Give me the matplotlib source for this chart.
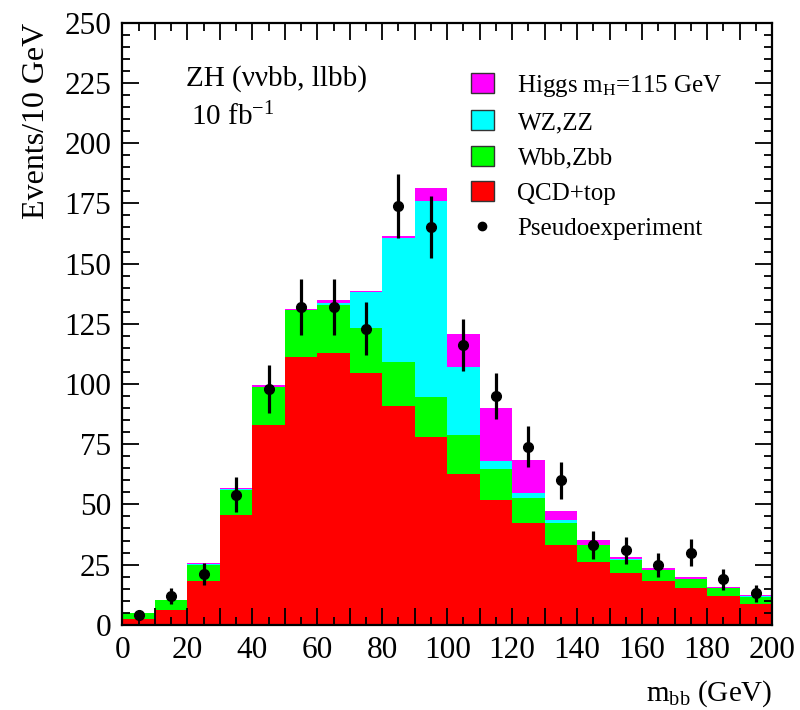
import numpy as np
import matplotlib
matplotlib.use("Agg")
import matplotlib.pyplot as plt
from matplotlib.patches import Patch
from matplotlib.lines import Line2D

# serif look like the ROOT original
plt.rcParams['font.family'] = ['Liberation Serif', 'DejaVu Serif']
plt.rcParams['mathtext.fontset'] = 'custom'
plt.rcParams['mathtext.rm'] = 'Liberation Serif'
plt.rcParams['mathtext.it'] = 'Liberation Serif:italic'

# bin centres of m_bb (GeV), 10 GeV bins
bin_centers = np.arange(5, 200, 10)

# stacked components (events / 10 GeV)
qcd_top = [2.5, 6, 18, 45.5, 83, 111.3, 113, 104.4, 90.7, 77.9,
           62.8, 52, 42.4, 33.3, 25.9, 21.4, 18.1, 15.2, 11.9, 8.6]
wbb_zbb = [2.5, 4.1, 7, 10.5, 15.7, 19.5, 19.9, 19, 18.6, 16.5,
           15.9, 12.9, 10.4, 8.9, 7.1, 5.6, 4.6, 3.9, 3.3, 3.1]
wz_zz = [0, 0.1, 0.4, 0.3, 0.2, 0.1, 0.6, 14.9, 51.5, 81.7,
         28.2, 3.3, 2.1, 1.2, 0.3, 0.4, 0.2, 0.1, 0.1, 0.1]
higgs = [0.1, 0.1, 0.2, 0.7, 0.7, 0.3, 1.5, 0.4, 0.7, 5.2,
         14, 21.8, 13.6, 3.7, 2.1, 0.7, 0.6, 0.6, 0.6, 0.6]

# pseudoexperiment counts
pseudo = [4, 12, 21, 54, 98, 132, 132, 123, 174, 165,
          116, 95, 74, 60, 33, 31, 25, 30, 19, 13]

fig = plt.figure(figsize=(8, 7.1), dpi=100)
ax = fig.add_axes([0.153, 0.12, 0.812, 0.848])

c_qcd, c_wbb, c_wz, c_h = '#ff0000', '#00ff00', '#00ffff', '#ff00ff'

b1 = np.array(qcd_top)
b2 = b1 + np.array(wbb_zbb)
b3 = b2 + np.array(wz_zz)
ax.bar(bin_centers, qcd_top, width=10, color=c_qcd, linewidth=0)
ax.bar(bin_centers, wbb_zbb, width=10, bottom=b1, color=c_wbb, linewidth=0)
ax.bar(bin_centers, wz_zz, width=10, bottom=b2, color=c_wz, linewidth=0)
ax.bar(bin_centers, higgs, width=10, bottom=b3, color=c_h, linewidth=0)

ax.errorbar(bin_centers, pseudo, yerr=np.sqrt(pseudo), fmt='o', color='black',
            markersize=7, elinewidth=2.3, capsize=0, zorder=5)

ax.set_xlim(0, 200)
ax.set_ylim(0, 250)
ax.set_xticks(np.arange(0, 201, 10))
ax.set_xticklabels([str(v) if v % 20 == 0 else '' for v in range(0, 201, 10)])
ax.set_xticks(np.arange(0, 201, 5), minor=True)
ax.set_yticks(np.arange(0, 251, 25))
ax.set_yticks(np.arange(0, 251, 5), minor=True)
ax.tick_params(which='both', direction='in', top=True, right=True,
               labelsize=22.5, width=1.3)
ax.tick_params(which='major', length=12, pad=8)
ax.tick_params(which='minor', length=6)
for s in ax.spines.values():
    s.set_linewidth(1.6)

ax.set_xlabel(r'm$_{\mathrm{bb}}$ (GeV)', fontsize=21, loc='right', labelpad=10)
ax.set_ylabel('Events/10 GeV', fontsize=23, loc='top', labelpad=10)

ax.text(0.098, 0.908, 'ZH (ννbb, llbb)', transform=ax.transAxes,
        fontsize=21, va='center')
ax.text(0.105, 0.843, '10 fb$^{\\mathrm{-1}}$', transform=ax.transAxes,
        fontsize=21, va='center')

handles = [
    Patch(facecolor=c_h, edgecolor='#333333'),
    Patch(facecolor=c_wz, edgecolor='#333333'),
    Patch(facecolor=c_wbb, edgecolor='#333333'),
    Patch(facecolor=c_qcd, edgecolor='#333333'),
    Line2D([], [], marker='o', color='black', linestyle='none', markersize=6),
]
labels = [r'Higgs m$_{\mathrm{H}}$=115 GeV', 'WZ,ZZ', 'Wbb,Zbb', 'QCD+top',
          'Pseudoexperiment']
ax.legend(handles, labels, loc='upper left', bbox_to_anchor=(0.537, 0.917),
          frameon=False, fontsize=18, handlelength=0.9, handleheight=0.85,
          handletextpad=0.95, labelspacing=0.47, borderpad=0, borderaxespad=0)

fig.savefig('out.png', dpi=100)
